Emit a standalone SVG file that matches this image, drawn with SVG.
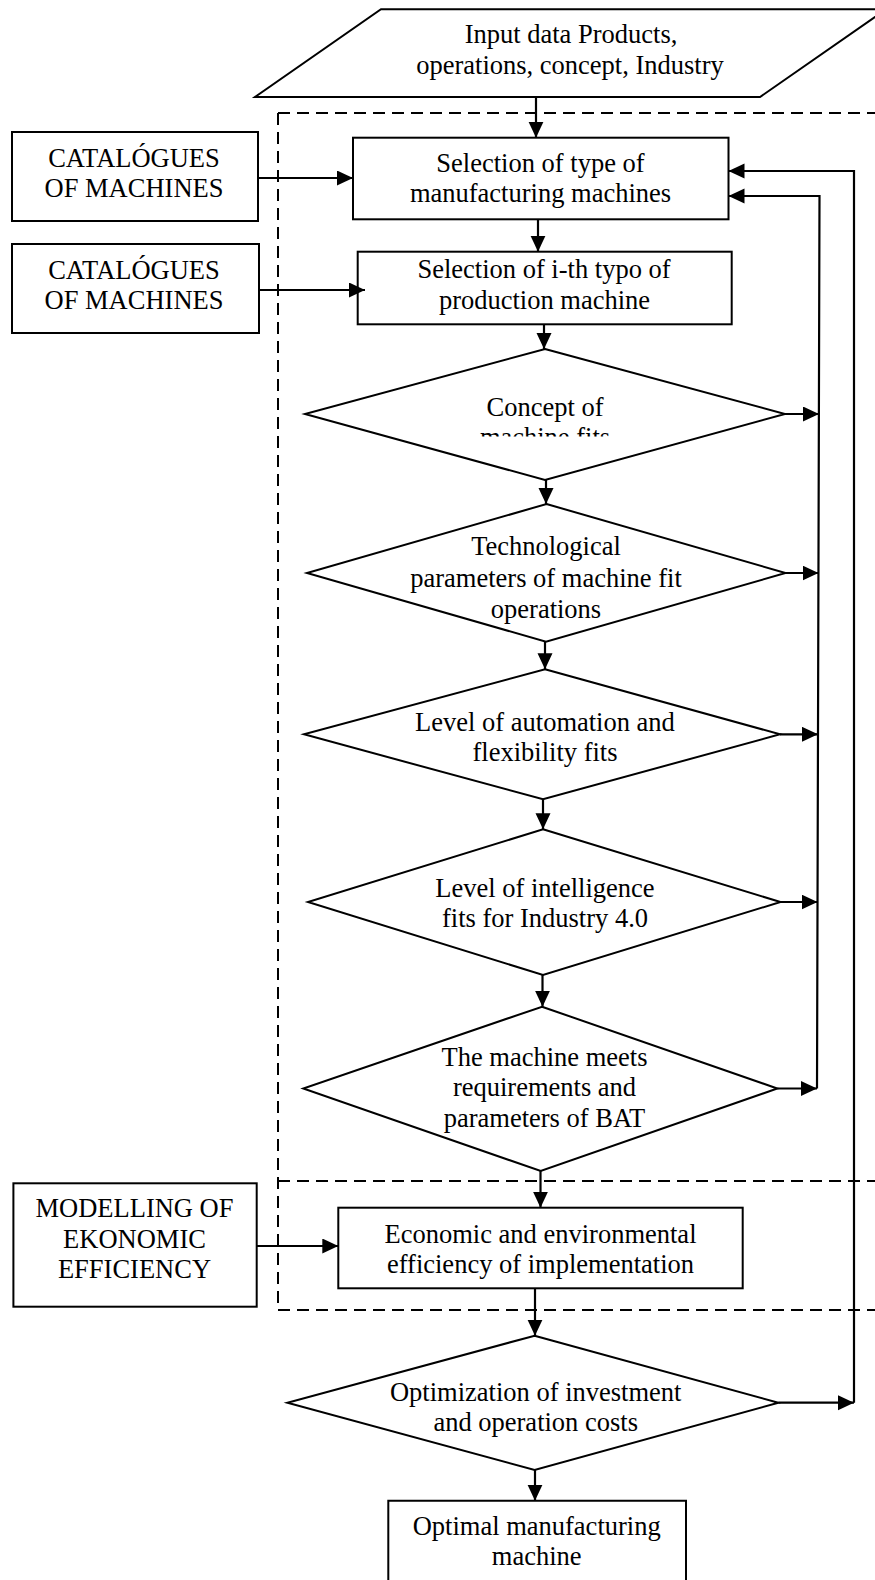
<svg xmlns="http://www.w3.org/2000/svg" width="875" height="1580" viewBox="0 0 875 1580">
<style>
.n{fill:#fff;stroke:#000;stroke-width:2}
.t{font-family:"Liberation Serif","Times New Roman",serif;font-size:26.5px;fill:#000;text-anchor:middle}
.c{fill:none;stroke:#000;stroke-width:2.2}
.a{marker-end:url(#ah)}
.d{fill:none;stroke:#000;stroke-width:2;stroke-dasharray:12 7}
</style>
<defs>
<marker id="ah" markerUnits="userSpaceOnUse" markerWidth="17" markerHeight="16" refX="16" refY="7.5" orient="auto">
<path d="M0,0 L16,7.5 L0,15 z" fill="#000"/>
</marker>
<clipPath id="clipD1"><rect x="290" y="340" width="510" height="96.5"/></clipPath>
</defs>
<rect width="875" height="1580" fill="#fff"/>

<g id="frame">
<line class="d" x1="278" y1="113" x2="875" y2="113"/>
<line class="d" x1="278" y1="113" x2="278" y2="1310"/>
<line class="d" x1="278" y1="1181" x2="875" y2="1181"/>
<line class="d" x1="278" y1="1310" x2="875" y2="1310"/>
</g>

<g id="input">
<polygon class="n" points="381,9.3 886,9.3 760,97 255,97"/>
<text class="t" x="571" y="43">Input data Products,</text>
<text class="t" x="570" y="74">operations, concept, Industry</text>
</g>

<g id="cat1">
<rect class="n" x="12" y="132" width="246" height="89"/>
<text class="t" x="134" y="167">CATALÓGUES</text>
<text class="t" x="134" y="197">OF MACHINES</text>
</g>

<g id="cat2">
<rect class="n" x="12" y="244" width="247" height="89"/>
<text class="t" x="134" y="279">CATALÓGUES</text>
<text class="t" x="134" y="309">OF MACHINES</text>
</g>

<g id="sel1">
<rect class="n" x="353" y="137.7" width="375.5" height="81.6"/>
<text class="t" x="540.5" y="172.3">Selection of type of</text>
<text class="t" x="540.5" y="201.7">manufacturing machines</text>
</g>

<g id="sel2">
<rect class="n" x="357.7" y="251.7" width="374" height="72.6"/>
<text class="t" x="544" y="278.3">Selection of i-th typo of</text>
<text class="t" x="544.5" y="309.3">production machine</text>
</g>

<g id="d1">
<polygon class="n" points="545,349 785,414 545,480 305,414"/>
<text class="t" x="545" y="416">Concept of</text>
<text class="t" x="545" y="446" clip-path="url(#clipD1)">machine fits</text>
</g>

<g id="d2">
<polygon class="n" points="546.5,504 785.5,573 546,641.7 307,573"/>
<text class="t" x="546" y="555">Technological</text>
<text class="t" x="546" y="586.7">parameters of machine fit</text>
<text class="t" x="546" y="617.7">operations</text>
</g>

<g id="d3">
<polygon class="n" points="545,669.3 780,734.3 543,799.3 304,734.3"/>
<text class="t" x="545" y="730.7">Level of automation and</text>
<text class="t" x="545" y="760.7">flexibility fits</text>
</g>

<g id="d4">
<polygon class="n" points="543,829.3 780.5,902 543,975 308,902"/>
<text class="t" x="545" y="896.7">Level of intelligence</text>
<text class="t" x="545" y="926.7">fits for Industry 4.0</text>
</g>

<g id="d5">
<polygon class="n" points="542,1006.7 777.3,1088.5 540.7,1171 303.3,1088.5"/>
<text class="t" x="544.5" y="1066">The machine meets</text>
<text class="t" x="544.5" y="1096">requirements and</text>
<text class="t" x="544.5" y="1126.5">parameters of BAT</text>
</g>

<g id="model">
<rect class="n" x="13.4" y="1183.3" width="243.3" height="123.4"/>
<text class="t" x="134.5" y="1217.3">MODELLING OF</text>
<text class="t" x="134.5" y="1248.3">EKONOMIC</text>
<text class="t" x="134.5" y="1278.3">EFFICIENCY</text>
</g>

<g id="econ">
<rect class="n" x="338.3" y="1207.7" width="404.4" height="80.6"/>
<text class="t" x="540.5" y="1243.3">Economic and environmental</text>
<text class="t" x="540.5" y="1272.7">efficiency of implementation</text>
</g>

<g id="opt">
<polygon class="n" points="534.6,1335.7 778.5,1402.7 534.6,1470 287.4,1402.7"/>
<text class="t" x="535.7" y="1400.7">Optimization of investment</text>
<text class="t" x="535.7" y="1430.7">and operation costs</text>
</g>

<g id="final">
<path class="n" d="M388.3,1582 V1500.7 H686 V1582"/>
<text class="t" x="536.7" y="1535">Optimal manufacturing</text>
<text class="t" x="536.7" y="1565">machine</text>
</g>

<g id="connectors">
<line class="c a" x1="536" y1="97" x2="536" y2="137.7"/>
<line class="c a" x1="258" y1="178" x2="353" y2="178"/>
<line class="c a" x1="259" y1="290" x2="365" y2="290"/>
<line class="c a" x1="538" y1="219.3" x2="538" y2="251.7"/>
<line class="c a" x1="544" y1="324.3" x2="544" y2="349"/>
<line class="c a" x1="546" y1="480" x2="546" y2="504"/>
<line class="c a" x1="545" y1="641.7" x2="545" y2="669.3"/>
<line class="c a" x1="543" y1="799.3" x2="543" y2="829.3"/>
<line class="c a" x1="542.5" y1="975" x2="542.5" y2="1006.7"/>
<line class="c a" x1="540.5" y1="1171" x2="540.5" y2="1207.7"/>
<line class="c a" x1="535" y1="1288.3" x2="535" y2="1335.7"/>
<line class="c a" x1="535" y1="1470" x2="535" y2="1500.7"/>
<line class="c a" x1="256.7" y1="1246" x2="338.3" y2="1246"/>
<line class="c a" x1="785" y1="414" x2="819" y2="414"/>
<line class="c a" x1="785.5" y1="573" x2="818.5" y2="573"/>
<line class="c a" x1="780" y1="734.3" x2="818" y2="734.3"/>
<line class="c a" x1="780.5" y1="902" x2="817.5" y2="902"/>
<line class="c a" x1="777.3" y1="1088.5" x2="817" y2="1088.5"/>
<polyline class="c a" points="817,1088.5 819.5,196 728.5,196"/>
<line class="c a" x1="778.5" y1="1402.7" x2="854" y2="1402.7"/>
<polyline class="c a" points="854,1402.7 854,171 728.5,171"/>
</g>
</svg>
